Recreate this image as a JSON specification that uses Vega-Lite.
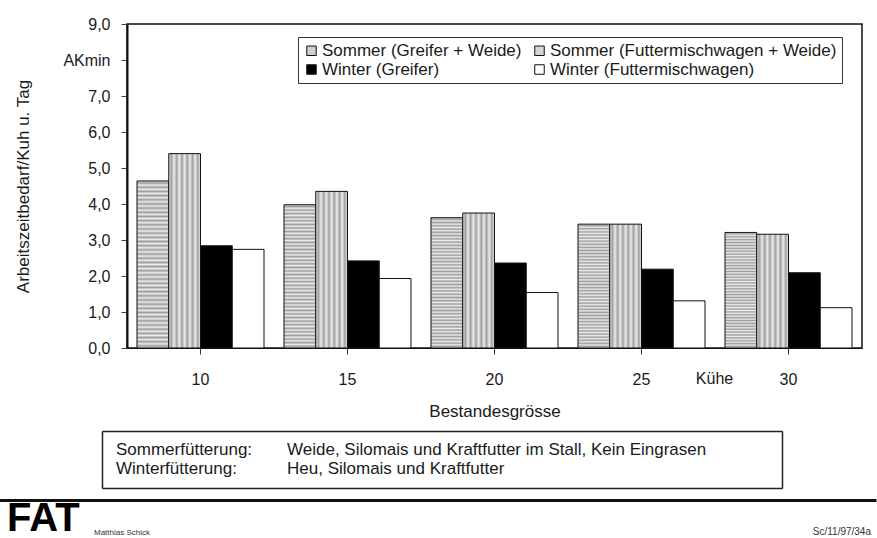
{
  "$schema": "https://vega.github.io/schema/vega-lite/v6.json",
  "background": "white",
  "padding": {"left": 7, "top": 15, "right": 0, "bottom": 0},
  "config": {
    "font": "Liberation Sans",
    "view": {"stroke": null},
    "text": {"color": "#1a1a1a"}
  },
  "spacing": 11,
  "vconcat": [
    {
      "width": 735,
      "height": 324,
      "view": {"stroke": "#111", "strokeWidth": 1.5},
      "data": {
        "values": [
          {"Bestand": "10", "Serie": "Sommer (Greifer + Weide)", "Wert": 4.64},
          {"Bestand": "10", "Serie": "Sommer (Futtermischwagen + Weide)", "Wert": 5.40},
          {"Bestand": "10", "Serie": "Winter (Greifer)", "Wert": 2.84},
          {"Bestand": "10", "Serie": "Winter (Futtermischwagen)", "Wert": 2.74},
          {"Bestand": "15", "Serie": "Sommer (Greifer + Weide)", "Wert": 3.98},
          {"Bestand": "15", "Serie": "Sommer (Futtermischwagen + Weide)", "Wert": 4.35},
          {"Bestand": "15", "Serie": "Winter (Greifer)", "Wert": 2.42},
          {"Bestand": "15", "Serie": "Winter (Futtermischwagen)", "Wert": 1.93},
          {"Bestand": "20", "Serie": "Sommer (Greifer + Weide)", "Wert": 3.62},
          {"Bestand": "20", "Serie": "Sommer (Futtermischwagen + Weide)", "Wert": 3.75},
          {"Bestand": "20", "Serie": "Winter (Greifer)", "Wert": 2.36},
          {"Bestand": "20", "Serie": "Winter (Futtermischwagen)", "Wert": 1.54},
          {"Bestand": "25", "Serie": "Sommer (Greifer + Weide)", "Wert": 3.44},
          {"Bestand": "25", "Serie": "Sommer (Futtermischwagen + Weide)", "Wert": 3.44},
          {"Bestand": "25", "Serie": "Winter (Greifer)", "Wert": 2.19},
          {"Bestand": "25", "Serie": "Winter (Futtermischwagen)", "Wert": 1.31},
          {"Bestand": "30", "Serie": "Sommer (Greifer + Weide)", "Wert": 3.21},
          {"Bestand": "30", "Serie": "Sommer (Futtermischwagen + Weide)", "Wert": 3.16},
          {"Bestand": "30", "Serie": "Winter (Greifer)", "Wert": 2.09},
          {"Bestand": "30", "Serie": "Winter (Futtermischwagen)", "Wert": 1.12}
        ]
      },
      "layer": [
        {
          "mark": {"type": "bar", "stroke": "#111", "strokeWidth": 1},
          "encoding": {
            "x": {
              "field": "Bestand",
              "type": "ordinal",
              "scale": {"domain": ["10", "15", "20", "25", "30"], "paddingInner": 0.136, "paddingOuter": 0.068},
              "axis": {
                "title": "Bestandesgrösse",
                "labelAngle": 0,
                "labelFontSize": 16,
                "labelPadding": 17,
                "labelColor": "#1a1a1a",
                "tickSize": 6,
                "tickColor": "#333",
                "domainColor": "#111",
                "titleFontSize": 17,
                "titleFontWeight": "normal",
                "titleColor": "#1a1a1a",
                "titlePadding": 16
              }
            },
            "xOffset": {
              "field": "Serie",
              "type": "nominal",
              "scale": {"domain": ["Sommer (Greifer + Weide)", "Sommer (Futtermischwagen + Weide)", "Winter (Greifer)", "Winter (Futtermischwagen)"], "paddingInner": 0, "paddingOuter": 0}
            },
            "y": {
              "field": "Wert",
              "type": "quantitative",
              "scale": {"domain": [0, 9], "nice": false},
              "axis": {
                "title": "Arbeitszeitbedarf/Kuh u. Tag",
                "values": [0, 1, 2, 3, 4, 5, 6, 7, 8, 9],
                "tickCount": 12,
                "labelExpr": "datum.value == 8 ? 'AKmin' : replace(format(datum.value, '.1f'), '.', ',')",
                "labelOverlap": false,
                "grid": false,
                "domainColor": "#111",
                "domainWidth": 2,
                "tickColor": "#444",
                "tickSize": 6,
                "labelPadding": 11,
                "labelFontSize": 16,
                "labelColor": "#1a1a1a",
                "titleFontSize": 17,
                "titleFontWeight": "normal",
                "titleColor": "#1a1a1a",
                "titlePadding": 30
              }
            },
            "fill": {
              "condition": [
                {
                  "test": "datum.Serie === 'Sommer (Greifer + Weide)'",
                  "value": {
                    "gradient": "linear", "x1": 0, "y1": 0, "x2": 0, "y2": 1,
                    "stops": [
                      {"offset": 0, "color": "#ececec"}, {"offset": 0.0125, "color": "#9c9c9c"},
                      {"offset": 0.025, "color": "#ececec"}, {"offset": 0.0375, "color": "#9c9c9c"},
                      {"offset": 0.05, "color": "#ececec"}, {"offset": 0.0625, "color": "#9c9c9c"},
                      {"offset": 0.075, "color": "#ececec"}, {"offset": 0.0875, "color": "#9c9c9c"},
                      {"offset": 0.1, "color": "#ececec"}, {"offset": 0.1125, "color": "#9c9c9c"},
                      {"offset": 0.125, "color": "#ececec"}, {"offset": 0.1375, "color": "#9c9c9c"},
                      {"offset": 0.15, "color": "#ececec"}, {"offset": 0.1625, "color": "#9c9c9c"},
                      {"offset": 0.175, "color": "#ececec"}, {"offset": 0.1875, "color": "#9c9c9c"},
                      {"offset": 0.2, "color": "#ececec"}, {"offset": 0.2125, "color": "#9c9c9c"},
                      {"offset": 0.225, "color": "#ececec"}, {"offset": 0.2375, "color": "#9c9c9c"},
                      {"offset": 0.25, "color": "#ececec"}, {"offset": 0.2625, "color": "#9c9c9c"},
                      {"offset": 0.275, "color": "#ececec"}, {"offset": 0.2875, "color": "#9c9c9c"},
                      {"offset": 0.3, "color": "#ececec"}, {"offset": 0.3125, "color": "#9c9c9c"},
                      {"offset": 0.325, "color": "#ececec"}, {"offset": 0.3375, "color": "#9c9c9c"},
                      {"offset": 0.35, "color": "#ececec"}, {"offset": 0.3625, "color": "#9c9c9c"},
                      {"offset": 0.375, "color": "#ececec"}, {"offset": 0.3875, "color": "#9c9c9c"},
                      {"offset": 0.4, "color": "#ececec"}, {"offset": 0.4125, "color": "#9c9c9c"},
                      {"offset": 0.425, "color": "#ececec"}, {"offset": 0.4375, "color": "#9c9c9c"},
                      {"offset": 0.45, "color": "#ececec"}, {"offset": 0.4625, "color": "#9c9c9c"},
                      {"offset": 0.475, "color": "#ececec"}, {"offset": 0.4875, "color": "#9c9c9c"},
                      {"offset": 0.5, "color": "#ececec"}, {"offset": 0.5125, "color": "#9c9c9c"},
                      {"offset": 0.525, "color": "#ececec"}, {"offset": 0.5375, "color": "#9c9c9c"},
                      {"offset": 0.55, "color": "#ececec"}, {"offset": 0.5625, "color": "#9c9c9c"},
                      {"offset": 0.575, "color": "#ececec"}, {"offset": 0.5875, "color": "#9c9c9c"},
                      {"offset": 0.6, "color": "#ececec"}, {"offset": 0.6125, "color": "#9c9c9c"},
                      {"offset": 0.625, "color": "#ececec"}, {"offset": 0.6375, "color": "#9c9c9c"},
                      {"offset": 0.65, "color": "#ececec"}, {"offset": 0.6625, "color": "#9c9c9c"},
                      {"offset": 0.675, "color": "#ececec"}, {"offset": 0.6875, "color": "#9c9c9c"},
                      {"offset": 0.7, "color": "#ececec"}, {"offset": 0.7125, "color": "#9c9c9c"},
                      {"offset": 0.725, "color": "#ececec"}, {"offset": 0.7375, "color": "#9c9c9c"},
                      {"offset": 0.75, "color": "#ececec"}, {"offset": 0.7625, "color": "#9c9c9c"},
                      {"offset": 0.775, "color": "#ececec"}, {"offset": 0.7875, "color": "#9c9c9c"},
                      {"offset": 0.8, "color": "#ececec"}, {"offset": 0.8125, "color": "#9c9c9c"},
                      {"offset": 0.825, "color": "#ececec"}, {"offset": 0.8375, "color": "#9c9c9c"},
                      {"offset": 0.85, "color": "#ececec"}, {"offset": 0.8625, "color": "#9c9c9c"},
                      {"offset": 0.875, "color": "#ececec"}, {"offset": 0.8875, "color": "#9c9c9c"},
                      {"offset": 0.9, "color": "#ececec"}, {"offset": 0.9125, "color": "#9c9c9c"},
                      {"offset": 0.925, "color": "#ececec"}, {"offset": 0.9375, "color": "#9c9c9c"},
                      {"offset": 0.95, "color": "#ececec"}, {"offset": 0.9625, "color": "#9c9c9c"},
                      {"offset": 0.975, "color": "#ececec"}, {"offset": 0.9875, "color": "#9c9c9c"},
                      {"offset": 1, "color": "#ececec"}
                    ]
                  }
                },
                {
                  "test": "datum.Serie === 'Sommer (Futtermischwagen + Weide)'",
                  "value": {
                    "gradient": "linear", "x1": 0, "y1": 0, "x2": 1, "y2": 0,
                    "stops": [
                      {"offset": 0, "color": "#ececec"}, {"offset": 0.0833, "color": "#a0a0a0"},
                      {"offset": 0.1667, "color": "#ececec"}, {"offset": 0.25, "color": "#a0a0a0"},
                      {"offset": 0.3333, "color": "#ececec"}, {"offset": 0.4167, "color": "#a0a0a0"},
                      {"offset": 0.5, "color": "#ececec"}, {"offset": 0.5833, "color": "#a0a0a0"},
                      {"offset": 0.6667, "color": "#ececec"}, {"offset": 0.75, "color": "#a0a0a0"},
                      {"offset": 0.8333, "color": "#ececec"}, {"offset": 0.9167, "color": "#a0a0a0"},
                      {"offset": 1, "color": "#ececec"}
                    ]
                  }
                }
              ],
              "field": "Serie",
              "type": "nominal",
              "scale": {
                "domain": ["Sommer (Greifer + Weide)", "Sommer (Futtermischwagen + Weide)", "Winter (Greifer)", "Winter (Futtermischwagen)"],
                "range": ["#cfcfcf", "#d6d6d6", "#000000", "#ffffff"]
              },
              "legend": {
                "title": null,
                "orient": "none",
                "legendX": 171,
                "legendY": 13,
                "direction": "horizontal",
                "columns": 2,
                "columnPadding": 9,
                "rowPadding": 1,
                "padding": 5,
                "strokeColor": "#333",
                "fillColor": "white",
                "labelFontSize": 17,
                "labelLimit": 400,
                "labelColor": "#1a1a1a",
                "labelOffset": 2,
                "symbolType": "square",
                "symbolSize": 90,
                "symbolStrokeColor": "#111",
                "symbolStrokeWidth": 1
              }
            }
          }
        },
        {
          "data": {"values": [{"Einheit": "Kühe"}]},
          "mark": {"type": "text", "fontSize": 16, "dx": -74, "dy": 31, "baseline": "middle", "align": "center"},
          "encoding": {
            "x": {"datum": "30", "type": "ordinal"},
            "y": {"datum": 0, "type": "quantitative"},
            "text": {"field": "Einheit", "type": "nominal"}
          }
        }
      ]
    },
    {
      "width": 655,
      "height": 57,
      "data": {
        "values": [
          {"zeile": "Sommer", "spalte": "Bezeichnung", "text": "Sommerfütterung:"},
          {"zeile": "Sommer", "spalte": "Beschreibung", "text": "Weide, Silomais und Kraftfutter im Stall, Kein Eingrasen"},
          {"zeile": "Winter", "spalte": "Bezeichnung", "text": "Winterfütterung:"},
          {"zeile": "Winter", "spalte": "Beschreibung", "text": "Heu, Silomais und Kraftfutter"}
        ]
      },
      "layer": [
        {
          "transform": [{"filter": "datum.spalte === 'Bezeichnung'"}],
          "mark": {"type": "text", "align": "left", "baseline": "middle", "fontSize": 17, "dx": 14},
          "encoding": {
            "x": {"datum": "links", "type": "nominal", "scale": {"type": "point", "domain": ["links", "rechts"], "range": [-25, 655], "padding": 0}, "axis": {"orient": "bottom", "title": null, "labels": false, "ticks": false, "grid": false, "domain": true, "domainColor": "#222", "domainWidth": 1.5}},
            "y": {"field": "zeile", "type": "nominal", "scale": {"type": "point", "domain": ["Sommer", "Winter"], "padding": 1}, "axis": {"orient": "left", "offset": 25, "title": null, "labels": false, "ticks": false, "grid": false, "domain": true, "domainColor": "#222", "domainWidth": 1.5}},
            "text": {"field": "text", "type": "nominal"}
          }
        },
        {
          "transform": [{"filter": "datum.spalte === 'Beschreibung'"}],
          "mark": {"type": "text", "align": "left", "baseline": "middle", "fontSize": 17, "dx": 185},
          "encoding": {
            "x": {"datum": "links", "type": "nominal", "axis": {"orient": "top", "title": null, "labels": false, "ticks": false, "grid": false, "domain": true, "domainColor": "#222", "domainWidth": 1.5}},
            "y": {"field": "zeile", "type": "nominal", "axis": {"orient": "right", "title": null, "labels": false, "ticks": false, "grid": false, "domain": true, "domainColor": "#222", "domainWidth": 1.5}},
            "text": {"field": "text", "type": "nominal"}
          }
        }
      ],
      "resolve": {"axis": {"x": "independent", "y": "independent"}}
    },
    {
      "width": 749,
      "height": 40,
      "layer": [
        {
          "data": {"values": [{"seite": "links", "text": "FAT"}]},
          "mark": {"type": "text", "align": "left", "baseline": "bottom", "fontSize": 40, "fontWeight": 900, "dx": 8, "dy": 19, "color": "#000"},
          "encoding": {
            "x": {"field": "seite", "type": "nominal", "scale": {"type": "point", "domain": ["links", "rechts"], "range": [-128, 749], "padding": 0}, "axis": {"orient": "top", "title": null, "labels": false, "ticks": false, "grid": false, "domain": true, "domainColor": "#111", "domainWidth": 3}},
            "text": {"field": "text", "type": "nominal"}
          }
        },
        {
          "data": {"values": [{"seite": "links", "text": "Matthias Schick"}]},
          "mark": {"type": "text", "align": "left", "baseline": "alphabetic", "fontSize": 8, "dx": 95, "dy": 15, "color": "#333"},
          "encoding": {
            "x": {"field": "seite", "type": "nominal"},
            "text": {"field": "text", "type": "nominal"}
          }
        },
        {
          "data": {"values": [{"seite": "rechts", "text": "Sc/11/97/34a"}]},
          "mark": {"type": "text", "align": "right", "baseline": "alphabetic", "fontSize": 10, "dx": -5, "dy": 15, "color": "#333"},
          "encoding": {
            "x": {"field": "seite", "type": "nominal"},
            "text": {"field": "text", "type": "nominal"}
          }
        }
      ]
    }
  ]
}
